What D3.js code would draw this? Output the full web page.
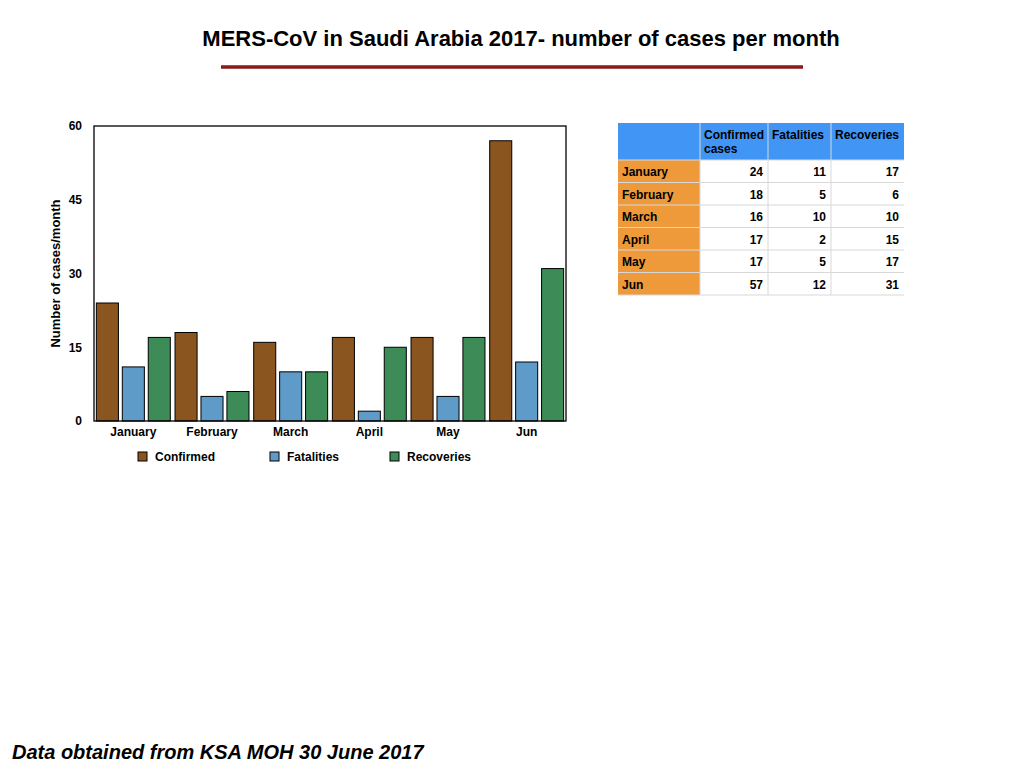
<!DOCTYPE html>
<html><head><meta charset="utf-8">
<script src="https://cdn.jsdelivr.net/npm/d3@7"></script>
<style>body{margin:0;background:#fff}</style></head>
<body><svg id="c" width="1024" height="768"></svg>
<script>
const months=["January","February","March","April","May","Jun"];
const confirmed=[24,18,16,17,17,57];
const fatalities=[11,5,10,2,5,12];
const recoveries=[17,6,10,15,17,31];
const seriesNames=["Confirmed","Fatalities","Recoveries"];
const tableHeaders=["Confirmed\ncases","Fatalities","Recoveries"];
const yTicks=[0,15,30,45,60];
const colors=["#8b5520","#5f9bc8","#3d8c58"];
const F="Liberation Sans, Arial, sans-serif";
const svg=d3.select("#c");
svg.append("text").attr("x",521).attr("y",46).attr("text-anchor","middle").attr("font-family",F).attr("font-weight","bold").attr("font-size",22).text("MERS-CoV in Saudi Arabia 2017- number of cases per month");
svg.append("line").attr("x1",221).attr("x2",803).attr("y1",67).attr("y2",67).attr("stroke","#8b1a1a").attr("stroke-width",3.5);
svg.append("text").attr("x",12).attr("y",759).attr("font-family",F).attr("font-weight","bold").attr("font-style","italic").attr("font-size",20).text("Data obtained from KSA MOH 30 June 2017");

const L=94,R=566,T=126,B=421;
const x=d3.scaleBand().domain(months).range([L,R]).paddingInner(0.06).paddingOuter(0.03);
const xs=d3.scaleBand().domain(seriesNames).range([0,x.bandwidth()]).paddingInner(0.15);
const y=d3.scaleLinear().domain([0,60]).range([B,T]);
const data=[confirmed,fatalities,recoveries];
const g=svg.append("g");
months.forEach((m,i)=>{
  seriesNames.forEach((s,j)=>{
    g.append("rect").attr("x",x(m)+xs(s)).attr("y",y(data[j][i])).attr("width",xs.bandwidth()).attr("height",B-y(data[j][i])).attr("fill",colors[j]).attr("stroke","#000").attr("stroke-width",1);
  });
});
svg.append("rect").attr("x",L).attr("y",T).attr("width",R-L).attr("height",B-T).attr("fill","none").attr("stroke","#000").attr("stroke-width",1.3);
const ya=svg.append("g").attr("transform",`translate(${L},0)`).call(d3.axisLeft(y).tickValues(yTicks).tickSize(0).tickPadding(12));
ya.select(".domain").remove();
ya.selectAll("text").attr("font-family",F).attr("font-weight","bold").attr("font-size",12).attr("fill","#000");
const xa=svg.append("g").attr("transform",`translate(0,${B})`).call(d3.axisBottom(x).tickSize(0).tickPadding(6));
xa.select(".domain").remove();
xa.selectAll("text").attr("font-family",F).attr("font-weight","bold").attr("font-size",12).attr("fill","#000");
svg.append("text").attr("transform",`translate(60,${(T+B)/2}) rotate(-90)`).attr("text-anchor","middle").attr("font-family",F).attr("font-weight","bold").attr("font-size",13).text("Number of cases/month");
const lx=[138,270,390];
seriesNames.forEach((s,j)=>{
  svg.append("rect").attr("x",lx[j]).attr("y",452).attr("width",9).attr("height",9).attr("fill",colors[j]).attr("stroke","#000");
  svg.append("text").attr("x",lx[j]+17).attr("y",461).attr("font-family",F).attr("font-weight","bold").attr("font-size",12).text(s);
});
// table
const cx=[618,700,768,831,904];
const hy0=123,hy1=160,rh=22.5;
svg.append("rect").attr("x",cx[0]).attr("y",hy0).attr("width",cx[4]-cx[0]).attr("height",hy1-hy0).attr("fill","#4195f5");
svg.append("rect").attr("x",cx[0]).attr("y",hy1).attr("width",cx[1]-cx[0]).attr("height",rh*6).attr("fill","#ee9a3a");
const tf=svg.append("g").attr("font-family",F).attr("font-weight","bold").attr("font-size",12);
[1,2,3].forEach(c=>svg.append("line").attr("x1",cx[c]).attr("x2",cx[c]).attr("y1",hy0).attr("y2",hy1+rh*6).attr("stroke","#d8d8d8"));
for(let r=0;r<=6;r++) svg.append("line").attr("x1",cx[0]).attr("x2",cx[4]).attr("y1",hy1+r*rh).attr("y2",hy1+r*rh).attr("stroke","#d8d8d8");
tableHeaders.forEach((h,c)=>{h.split("\n").forEach((ln,k)=>tf.append("text").attr("x",cx[c+1]+4).attr("y",hy0+16+k*14).text(ln));});
months.forEach((m,r)=>{
  const yy=hy1+r*rh+16;
  tf.append("text").attr("x",cx[0]+4).attr("y",yy).text(m);
  data.forEach((d,c)=>tf.append("text").attr("x",cx[c+2]-5).attr("y",yy).attr("text-anchor","end").text(d[r]));
});
</script></body></html>
